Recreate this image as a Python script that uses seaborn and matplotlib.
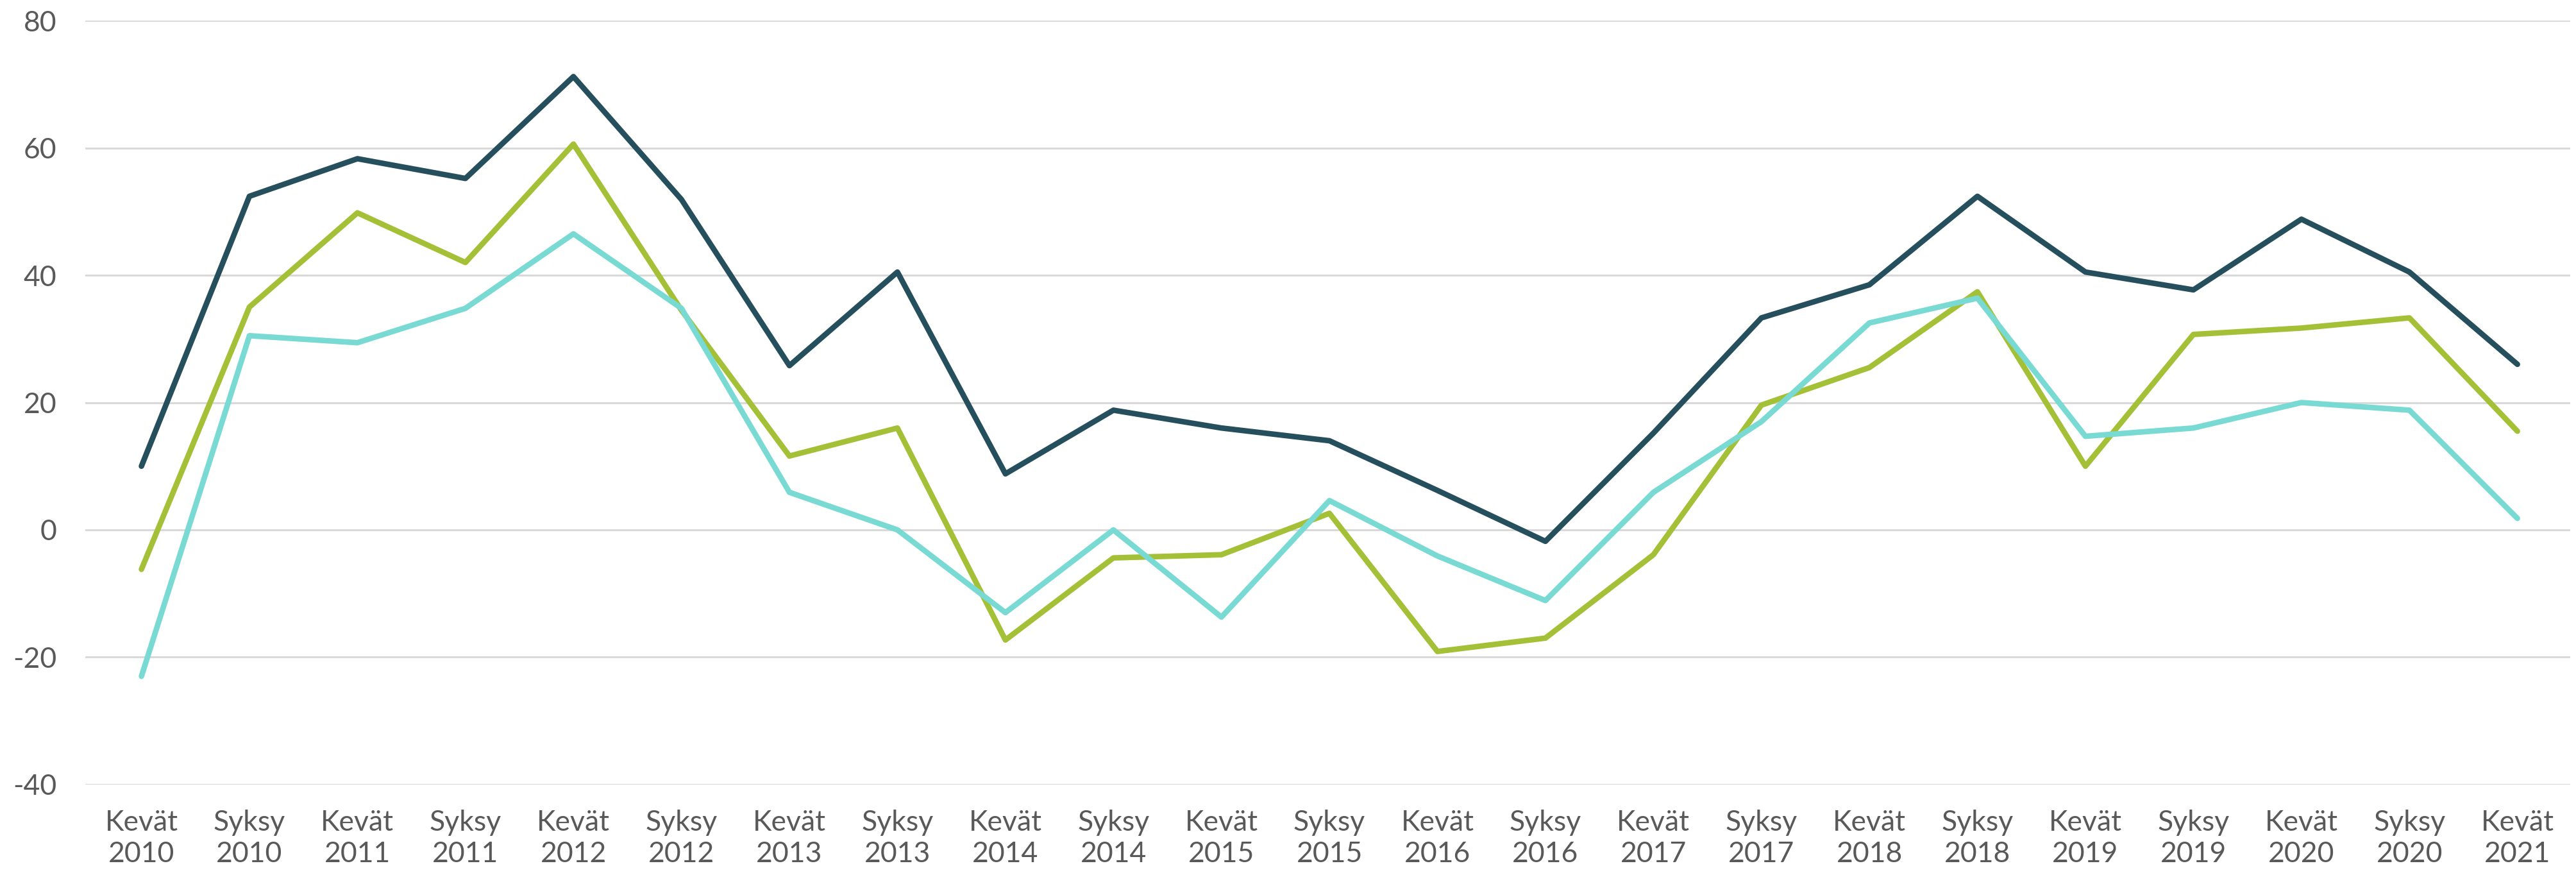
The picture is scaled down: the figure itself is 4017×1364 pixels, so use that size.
import numpy as np
import pandas as pd
import seaborn as sns
import matplotlib.pyplot as plt

# season labels along the x axis
seasons = ["Kevät", "Syksy"] * 11 + ["Kevät"]
years = [2010, 2010, 2011, 2011, 2012, 2012, 2013, 2013, 2014, 2014, 2015, 2015,
         2016, 2016, 2017, 2017, 2018, 2018, 2019, 2019, 2020, 2020, 2021]
labels = [f"{s}\n{y}" for s, y in zip(seasons, years)]

dark = [10, 52.4, 58.3, 55.2, 71.2, 51.9, 25.8, 40.5, 8.8, 18.8, 16, 14,
        6.2, -1.8, 15.2, 33.3, 38.5, 52.4, 40.5, 37.7, 48.8, 40.5, 26]
green = [-6.2, 35, 49.8, 42, 60.6, 34.5, 11.6, 16, -17.3, -4.4, -3.9, 2.6,
         -19.1, -17, -3.9, 19.6, 25.5, 37.4, 10, 30.7, 31.7, 33.3, 15.5]
turq = [-23, 30.5, 29.4, 34.8, 46.5, 34.8, 5.9, 0, -13, 0, -13.7, 4.6,
        -4.1, -11.1, 5.9, 17, 32.5, 36.4, 14.7, 16, 20, 18.8, 1.8]

colors = {"dark": "#254f5c", "green": "#a3c037", "turq": "#78dad3"}

df = pd.DataFrame({"x": np.arange(len(labels)), "dark": dark, "green": green, "turq": turq})
long = df.melt(id_vars="x", var_name="series", value_name="value")

sns.set_style("white")
plt.rcParams['font.family'] = ['Lato', 'DejaVu Sans']
plt.rcParams['axes.unicode_minus'] = False

fig = plt.figure(figsize=(40.17, 13.64), dpi=100)
ax = fig.add_axes([0.0331, 0.1034, 0.9647, 0.8731])

sns.lineplot(data=long, x="x", y="value", hue="series", palette=colors,
             linewidth=6.2, legend=False, ax=ax)

ax.set_xlim(-0.52, 22.49)
ax.set_ylim(-40, 80)
ax.set_yticks(range(-40, 81, 20))
ax.set_xticks(df["x"])
ax.set_xticklabels(labels, linespacing=1.25)
ax.yaxis.grid(True, color="#d9d9d9", linewidth=2.2)
ax.xaxis.grid(False)
for s in ax.spines.values():
    s.set_visible(False)
ax.tick_params(axis="both", length=0, labelsize=32, colors="#595959")
ax.tick_params(axis="y", pad=32)
ax.tick_params(axis="x", pad=28)
ax.set_xlabel("")
ax.set_ylabel("")

fig.savefig("out.png", dpi=100)
